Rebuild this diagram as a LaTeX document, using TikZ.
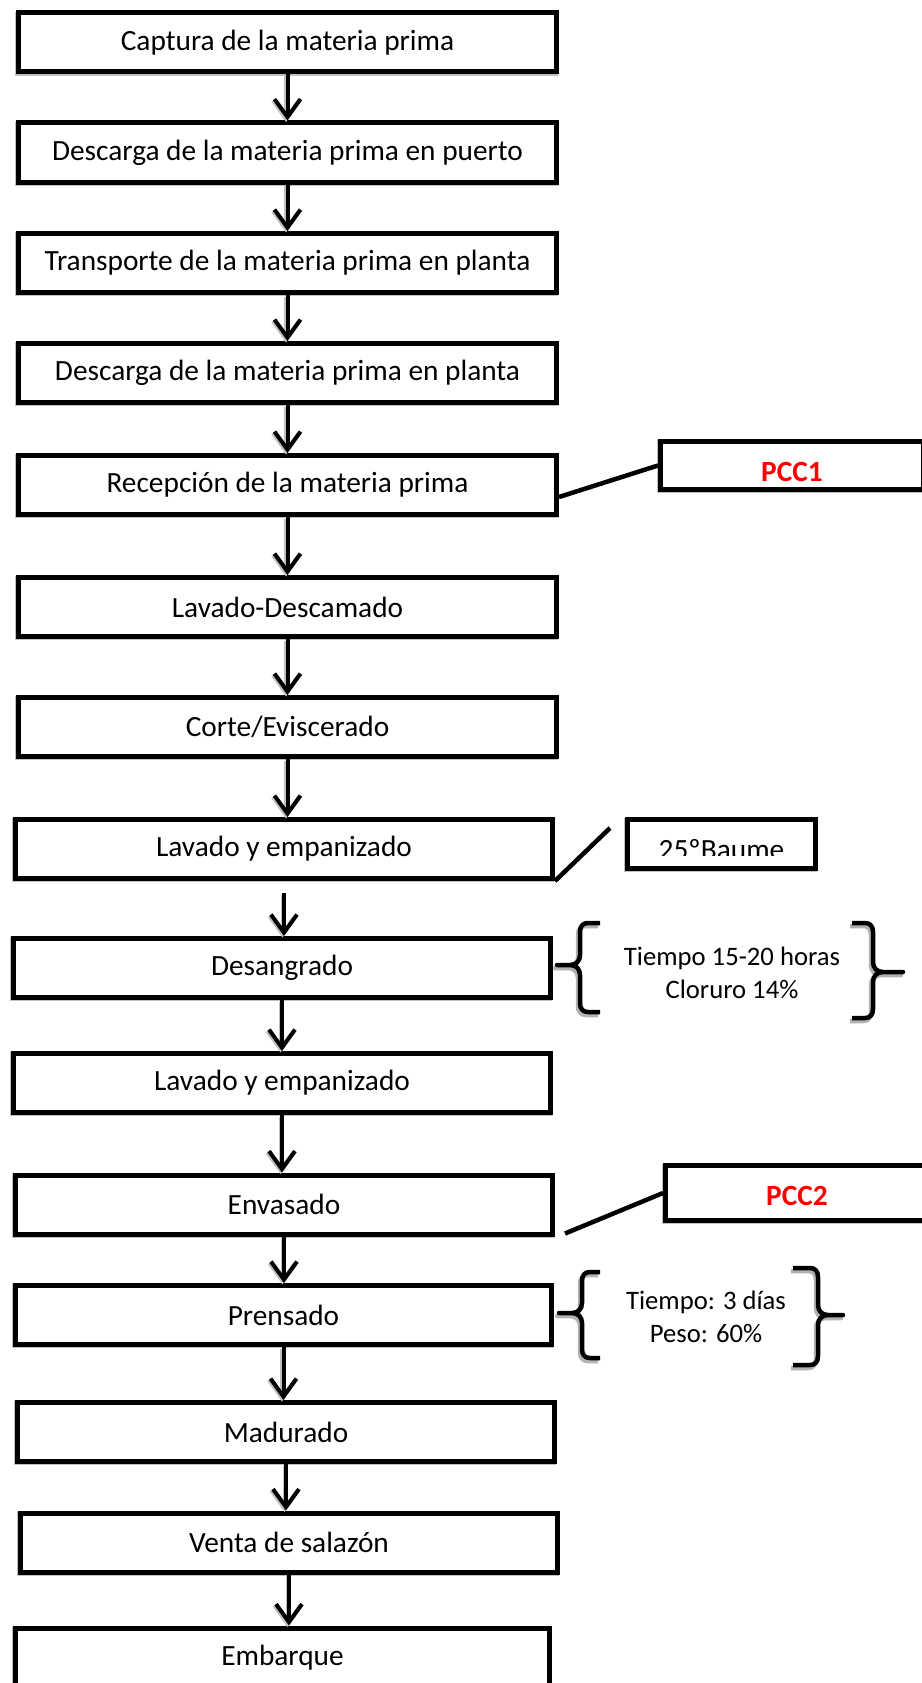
\documentclass[tikz,border=0pt]{standalone}
\usepackage{fontspec}
\setmainfont{Carlito}
\usetikzlibrary{arrows.meta,calc}
\newcommand\fmain{\fontsize{29.33pt}{35.8pt}\selectfont}
\newcommand\fsmall{\fontsize{26.67pt}{32.5pt}\selectfont}
\definecolor{pccred}{RGB}{255,0,0}
% X T M B tip hook
\newcommand\myLbrace[6]{%
 \draw[brace] (#6,#2) -- ({#1+8},#2) .. controls ({#1+3},#2) and (#1,{#2+3}) .. (#1,{#2+9}) -- (#1,{#3-10}) .. controls (#1,{#3-4}) and ({#1-4},#3) .. ({#1-10},#3) -- (#5,#3) -- ({#1-10},#3) .. controls ({#1-4},#3) and (#1,{#3+4}) .. (#1,{#3+10}) -- (#1,{#4-9}) .. controls (#1,{#4-3}) and ({#1+3},#4) .. ({#1+8},#4) -- (#6,#4);}
\newcommand\myRbrace[6]{%
 \draw[brace] (#6,#2) -- ({#1-8},#2) .. controls ({#1-3},#2) and (#1,{#2+3}) .. (#1,{#2+9}) -- (#1,{#3-10}) .. controls (#1,{#3-4}) and ({#1+4},#3) .. ({#1+10},#3) -- (#5,#3) -- ({#1+10},#3) .. controls ({#1+4},#3) and (#1,{#3+4}) .. (#1,{#3+10}) -- (#1,{#4-9}) .. controls (#1,{#4-3}) and ({#1-3},#4) .. ({#1-8},#4) -- (#6,#4);}
\begin{document}
\begin{tikzpicture}[x=1pt,y=-1pt,
  box/.style={draw, line width=5pt, fill=white, minimum height=59pt, inner sep=0pt, font=\fmain,
    preaction={draw=gray!50, line width=5pt, transform canvas={shift={(-1.2pt,-1.2pt)}}}},
  arr/.style={line width=4pt, -{Straight Barb[length=18pt,width=26pt]},
    preaction={draw=gray!50, line width=4pt, -{Straight Barb[length=18pt,width=26pt]}, transform canvas={shift={(-1.5pt,-1.5pt)}}}},
  link/.style={line width=4.5pt},
  brace/.style={line width=4.5pt, line join=round,
    preaction={draw=gray!60, line width=4.5pt, line join=round, transform canvas={shift={(-2pt,-3pt)}}}},
  pcc/.style={font=\fmain\bfseries, text=pccred, anchor=base, inner sep=0pt}]
\fill[white] (0,0) rectangle (921,1683);
\useasboundingbox (0,0) rectangle (921,1683);

\node[box, minimum width=538pt] (b1) at (287.5,42.5) {Captura de la materia prima};
\node[box, minimum width=538pt] (b2) at (287.5,152.5) {Descarga de la materia prima en puerto};
\node[box, minimum width=538pt] (b3) at (287.5,263) {Transporte de la materia prima en planta};
\node[box, minimum width=538pt] (b4) at (287.5,373) {Descarga de la materia prima en planta};
\node[box, minimum width=538pt] (b5) at (287.5,485) {Recepción de la materia prima};
\node[box, minimum width=538pt] (b6) at (287.5,607) {Lavado-Descamado};
\node[box, minimum width=538pt] (b7) at (287.5,727) {Corte/Eviscerado};
\node[box, minimum width=537pt] (b8) at (284,849) {Lavado y empanizado};
\node[box, minimum width=537pt] (b9) at (282,968) {Desangrado};
\node[box, minimum width=537pt] (b10) at (282,1083) {Lavado y empanizado};
\node[box, minimum width=537pt] (b11) at (284,1204.5) {Envasado};
\node[box, minimum width=536pt] (b12) at (283.5,1315) {Prensado};
\node[box, minimum width=537pt] (b13) at (286,1432) {Madurado};
\node[box, minimum width=537pt] (b14) at (289,1542.5) {Venta de salazón};
\node[box, minimum width=534pt] (b15) at (282.5,1657.5) {Embarque};

\foreach \a/\b in {b1/b2,b2/b3,b3/b4,b4/b5,b5/b6,b6/b7,b7/b8,b9/b10,b10/b11,b11/b12,b12/b13,b13/b14,b14/b15}
  \draw[arr] (\a.south) -- (\a.south |- \b.north);
\draw[arr, shorten <=12pt] (b8.south) -- (b8.south |- b9.north);

% PCC1
\node[box, minimum width=263pt, minimum height=48pt] (pcc1) at (792,465.5) {};
\node[pcc] (pcc1t) at (792,481) {PCC1};
\draw[link] ([yshift=-12pt]b5.east) -- (pcc1.west);

% 25 Baume
\node[box, minimum width=188pt, minimum height=49pt] (baume) at (721.5,844) {};
\begin{scope}
\clip (630,822) rectangle (813,855);
\node[font=\fmain, anchor=base, inner sep=0pt] (baumet) at (721.5,859) {25ºBaume};
\end{scope}
\coordinate (bend) at ([xshift=-15pt,yshift=16pt]baume.west);
\draw[link] (b8.south east) -- (bend);

% PCC2
\node[box, minimum width=263pt, minimum height=55pt] (pcc2) at (797,1193) {};
\node[pcc] (pcc2t) at (797,1205) {PCC2};
\coordinate (p2s) at ([xshift=10pt,yshift=3pt]b11.south east);
\draw[link] (p2s) -- (pcc2.west);

% braces and notes
\myLbrace{580}{923}{965}{1012}{557}{600}
\myRbrace{873}{923}{972}{1018}{903}{852}
\node[font=\fsmall, align=center] (t1) at (732,973) {Tiempo 15-20 horas\\Cloruro 14\%};

\myLbrace{582}{1272}{1313}{1358}{559}{600}
\myRbrace{818}{1268}{1315}{1365}{843}{793}
\node[font=\fsmall, align=center] (t2) at (706,1317) {Tiempo: 3 días\\Peso: 60\%};
\end{tikzpicture}
\end{document}
